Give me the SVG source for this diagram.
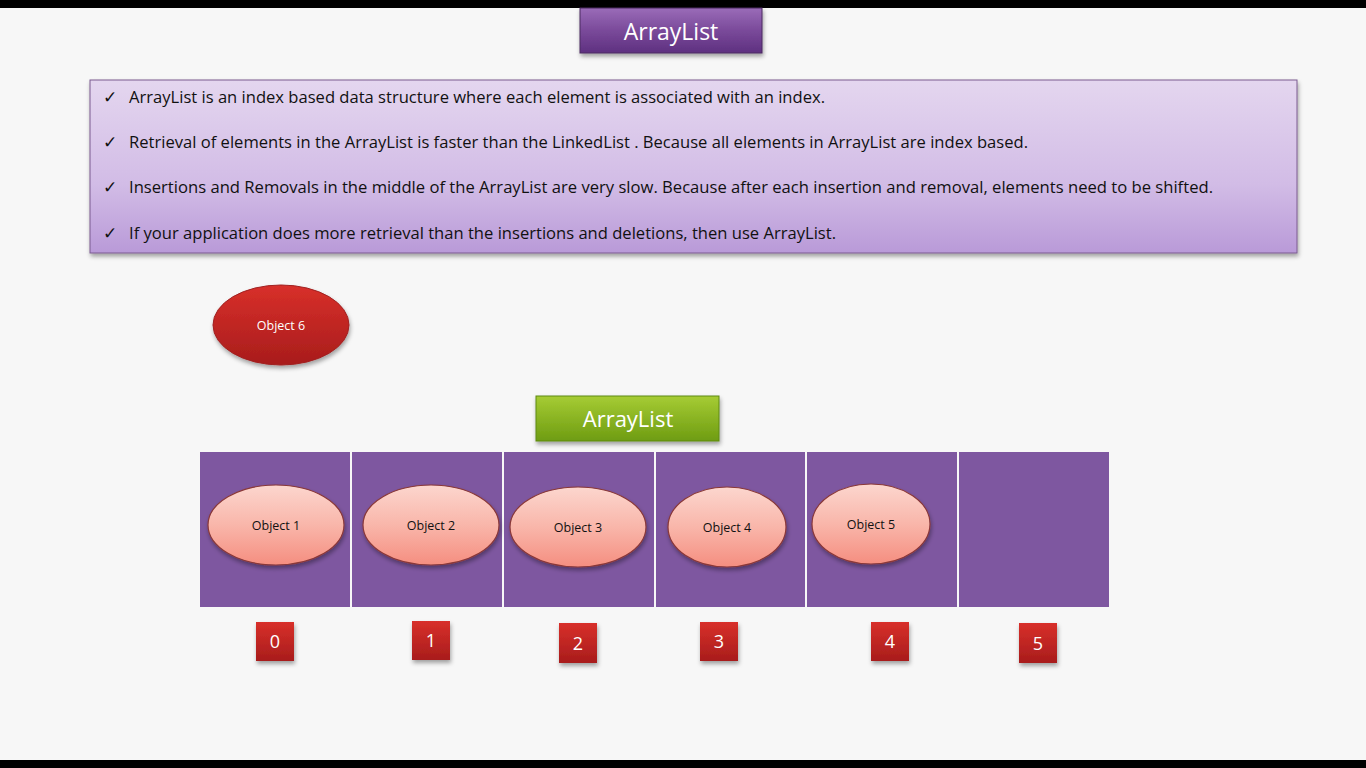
<svg xmlns="http://www.w3.org/2000/svg" width="1366" height="768" viewBox="0 0 1366 768">
<defs>
<linearGradient id="gTitle" x1="0" y1="0" x2="0" y2="1"><stop offset="0" stop-color="#9a6cb8"/><stop offset="0.5" stop-color="#7a4a9a"/><stop offset="1" stop-color="#5e3080"/></linearGradient>
<linearGradient id="gInfo" x1="0" y1="0" x2="0" y2="1"><stop offset="0" stop-color="#e4d6ef"/><stop offset="0.6" stop-color="#d2bce6"/><stop offset="1" stop-color="#b99ad8"/></linearGradient>
<linearGradient id="gRed" x1="0" y1="0" x2="0" y2="1"><stop offset="0" stop-color="#d8302a"/><stop offset="1" stop-color="#a81c1c"/></linearGradient>
<linearGradient id="gGreen" x1="0" y1="0" x2="0" y2="1"><stop offset="0" stop-color="#a6cc34"/><stop offset="1" stop-color="#6e9c12"/></linearGradient>
<linearGradient id="gPink" x1="0" y1="0" x2="0" y2="1"><stop offset="0" stop-color="#fcd6ce"/><stop offset="0.5" stop-color="#f9b6aa"/><stop offset="1" stop-color="#f58e80"/></linearGradient>
<filter id="sh" x="-20%" y="-20%" width="140%" height="150%"><feDropShadow dx="1" dy="3" stdDeviation="2" flood-color="#000" flood-opacity="0.35"/></filter>
</defs>
<style>
.t{font-family:"Open Sans","Liberation Sans",sans-serif;}
.info{font-size:15.5px;fill:#111;}
.ck{font-family:"DejaVu Sans",sans-serif;font-size:17px;fill:#111;}
.cell{fill:#7e57a0;}
.obj{fill:url(#gPink);stroke:#8a3838;stroke-width:1.2;filter:url(#sh);}
.ol{font-size:12.5px;fill:#111;text-anchor:middle;}
.idx{fill:url(#gRed);filter:url(#sh);}
.il{font-size:18px;fill:#fff;text-anchor:middle;}
</style>
<rect width="1366" height="768" fill="#f7f7f7"/>
<rect x="0" y="0" width="1366" height="8" fill="#000"/>
<rect x="0" y="760" width="1366" height="8" fill="#000"/>

<g id="title">
<rect x="580" y="8" width="182" height="45" fill="url(#gTitle)" stroke="#4a2a60" stroke-width="1" filter="url(#sh)"/>
<text class="t" x="671" y="40" font-size="23" fill="#fff" text-anchor="middle">ArrayList</text>
</g>

<g id="info">
<rect x="90" y="80" width="1207" height="173" fill="url(#gInfo)" stroke="#7a5a90" stroke-width="1" filter="url(#sh)"/>
<text class="ck" x="103" y="103">✓</text>
<text class="t info" x="129" y="103" textLength="696" lengthAdjust="spacingAndGlyphs">ArrayList is an index based data structure where each element is associated with an index.</text>
<text class="ck" x="103" y="148">✓</text>
<text class="t info" x="129" y="148" textLength="899" lengthAdjust="spacingAndGlyphs">Retrieval of elements in the ArrayList is faster than the LinkedList . Because all elements in ArrayList are index based.</text>
<text class="ck" x="103" y="193">✓</text>
<text class="t info" x="129" y="193" textLength="1084" lengthAdjust="spacingAndGlyphs">Insertions and Removals in the middle of the ArrayList are very slow. Because after each insertion and removal, elements need to be shifted.</text>
<text class="ck" x="103" y="239">✓</text>
<text class="t info" x="129" y="239" textLength="707" lengthAdjust="spacingAndGlyphs">If your application does more retrieval than the insertions and deletions, then use ArrayList.</text>
</g>

<g id="object6">
<ellipse cx="281" cy="325" rx="68" ry="40" fill="url(#gRed)" stroke="#a02020" stroke-width="1" filter="url(#sh)"/>
<text class="t" x="281" y="330" font-size="12.5" fill="#fff" text-anchor="middle">Object 6</text>
</g>

<g id="arraylist-label">
<rect x="536" y="396" width="183" height="45" fill="url(#gGreen)" stroke="#5e8a10" stroke-width="1" filter="url(#sh)"/>
<text class="t" x="628" y="427" font-size="22" fill="#fff" text-anchor="middle">ArrayList</text>
</g>

<g id="cells">
<rect class="cell" x="200" y="452" width="150" height="155"/>
<rect class="cell" x="352" y="452" width="150" height="155"/>
<rect class="cell" x="504" y="452" width="150" height="155"/>
<rect class="cell" x="656" y="452" width="149" height="155"/>
<rect class="cell" x="807" y="452" width="150" height="155"/>
<rect class="cell" x="959" y="452" width="150" height="155"/>
</g>

<g id="object1"><ellipse class="obj" cx="276" cy="525" rx="68" ry="40"/><text class="t ol" x="276" y="530">Object 1</text></g>
<g id="object2"><ellipse class="obj" cx="431" cy="525" rx="68" ry="40"/><text class="t ol" x="431" y="530">Object 2</text></g>
<g id="object3"><ellipse class="obj" cx="578" cy="527" rx="68" ry="40"/><text class="t ol" x="578" y="532">Object 3</text></g>
<g id="object4"><ellipse class="obj" cx="727" cy="527" rx="59" ry="40"/><text class="t ol" x="727" y="532">Object 4</text></g>
<g id="object5"><ellipse class="obj" cx="871" cy="524" rx="59" ry="40"/><text class="t ol" x="871" y="529">Object 5</text></g>

<g id="index0"><rect class="idx" x="256" y="622" width="38" height="39"/><text class="t il" x="275" y="648">0</text></g>
<g id="index1"><rect class="idx" x="412" y="621" width="38" height="39"/><text class="t il" x="431" y="647">1</text></g>
<g id="index2"><rect class="idx" x="559" y="623" width="38" height="40"/><text class="t il" x="578" y="650">2</text></g>
<g id="index3"><rect class="idx" x="700" y="622" width="38" height="39"/><text class="t il" x="719" y="648">3</text></g>
<g id="index4"><rect class="idx" x="871" y="622" width="38" height="39"/><text class="t il" x="890" y="648">4</text></g>
<g id="index5"><rect class="idx" x="1019" y="623" width="38" height="40"/><text class="t il" x="1038" y="650">5</text></g>

<g id="connectors"/>
</svg>
